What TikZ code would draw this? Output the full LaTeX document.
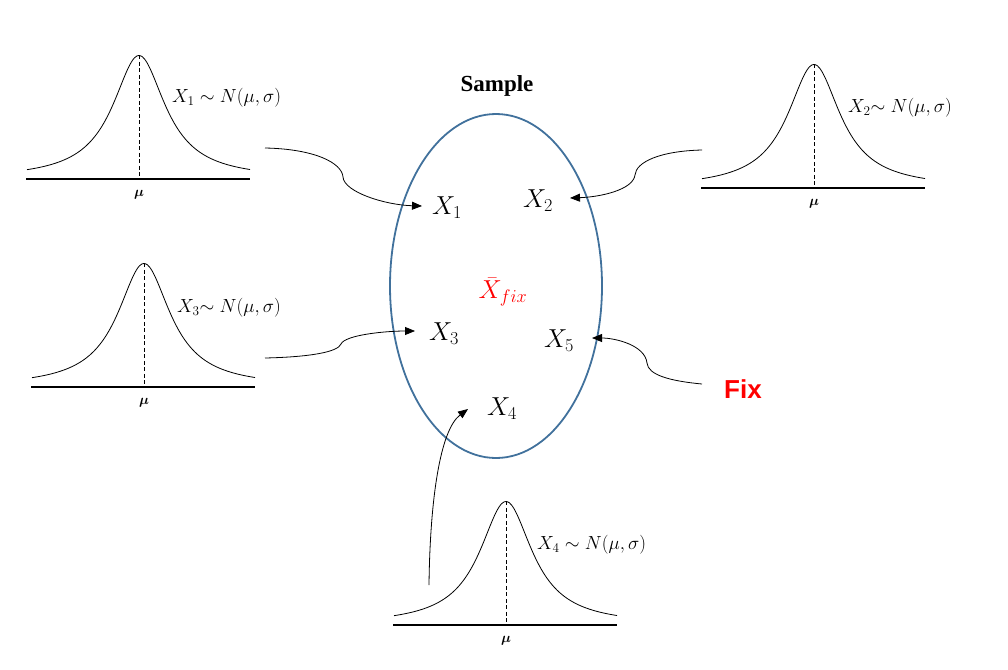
\RequirePackage{fix-cm}
\documentclass[tikz,border=0pt]{standalone}
\usepackage{amsmath,bm}
\usepackage{fontspec}
\newfontfamily\titlefont{Liberation Serif}
\newfontfamily\fixfont{Liberation Sans}
\usetikzlibrary{shapes.geometric,arrows.meta}
\definecolor{ellblue}{HTML}{41719C}
\definecolor{fixred}{HTML}{FF0000}
\begin{document}
\begin{tikzpicture}[x=1pt,y=-1pt,
  bellcurve/.style={line width=0.8pt},
  baseaxis/.style={line width=2.2pt},
  meanline/.style={dash pattern=on 4pt off 2.5pt, line width=0.7pt},
  connector/.style={line width=0.8pt, -{Triangle[length=10pt,width=8pt]}},
  bigx/.style={font=\fontsize{26}{31}\selectfont, inner sep=0pt},
  distlabel/.style={font=\fontsize{19}{23}\selectfont, anchor=west, inner sep=0pt},
  mulabel/.style={font=\fontsize{14}{16}\selectfont, inner sep=0pt},
  bell/.pic={
    \draw[bellcurve] plot[domain=-112:111, samples=90, smooth] (\x,{-123.6/(1+(\x/32)^2)});
    \draw[meanline] (0,-123.6) -- (0,-1);
    \draw[baseaxis] (-113,0) -- (111,0);
    \node[mulabel] (-mu) at (0,16) {$\bm{\mu}$};
  }
]
\useasboundingbox (0,0) rectangle (1008,669);

% bell curves
\pic (b1) at (139,179) {bell};
\pic (b2) at (814,188) {bell};
\pic (b3) at (144,387) {bell};
\pic (b4) at (506,625) {bell};

% distribution labels
\node[distlabel] (d1) at (172,98) {$X_1 \sim N(\mu,\sigma)$};
\node[distlabel] (d2) at (848,108) {$X_2{\sim}\; N(\mu,\sigma)$};
\node[distlabel] (d3) at (177,308) {$X_3{\sim}\; N(\mu,\sigma)$};
\node[distlabel] (d4) at (537,545) {$X_4 \sim N(\mu,\sigma)$};

% sample ellipse
\node[draw=ellblue, line width=1.8pt, ellipse, inner sep=0pt,
      minimum width=212pt, minimum height=344pt] (sample) at (496,286) {};
\node[font={\titlefont\bfseries\fontsize{23}{27}\selectfont}, inner sep=0pt] (title) at (497,86) {Sample};

% sample members
\node[bigx] (x1) at (447,208) {$X_1$};
\node[bigx] (x2) at (538,201) {$X_2$};
\node[bigx] (x3) at (444,334) {$X_3$};
\node[bigx] (x5) at (559,341) {$X_5$};
\node[bigx] (x4) at (502,409) {$X_4$};
\node[bigx, text=fixred] (xbar) at (503,292) {$\bar{X}_{fix}$};

% Fix label
\node[font={\fixfont\bfseries\fontsize{26}{30}\selectfont}, text=fixred, inner sep=0pt] (fix) at (743,389) {Fix};

% connector start points
\coordinate (s1) at (265,148);
\coordinate (s2) at (702,150);
\coordinate (s3) at (265,358);
\coordinate (s4) at (429,585);
\coordinate (s5) at (702,384);

% connectors
\draw[connector] (s1) .. controls (315,149) and (342,163) .. (343,177)
  .. controls (344,192) and (385,205) .. ([shift={(-25,-2)}]x1.center);
\draw[connector] (s2) .. controls (660,151) and (636,162) .. (635,175)
  .. controls (633,190) and (600,197) .. ([shift={(32,-3)}]x2.center);
\draw[connector] (s3) .. controls (310,357) and (338,352) .. (341,344)
  .. controls (345,335) and (385,331) .. ([shift={(-29,-3)}]x3.center);
\draw[connector] (s4) .. controls (430,500) and (440,430) .. ([shift={(-34,0)}]x4.center);
\draw[connector] (s5) .. controls (670,381) and (648,375) .. (647,363)
  .. controls (645,345) and (615,338) .. ([shift={(33,-3)}]x5.center);
\end{tikzpicture}
\end{document}
